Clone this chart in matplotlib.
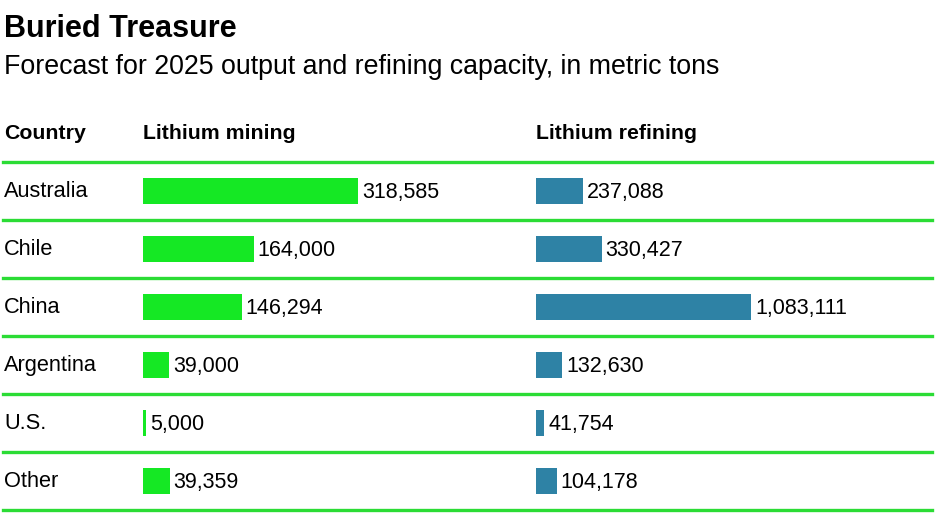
import matplotlib.pyplot as plt
import numpy as np

plt.rcParams['font.family'] = ['Liberation Sans', 'DejaVu Sans']

countries = ['Australia', 'Chile', 'China', 'Argentina', 'U.S.', 'Other']
mining = [318585, 164000, 146294, 39000, 5000, 39359]
refining = [237088, 330427, 1083111, 132630, 41754, 104178]

W, H = 944, 519
GREEN_BAR = '#15e824'
GREEN_LINE = '#2bdc35'
BLUE = '#2e82a5'
BAR_PX = 215  # longest bar in each column, pixels


def px_axes(fig, x0, y0, x1, y1):
    # axes placed in pixel coordinates (top-left origin)
    ax = fig.add_axes([x0 / W, 1 - y1 / H, (x1 - x0) / W, (y1 - y0) / H])
    ax.set_axis_off()
    return ax


def px_text(fig, x, y, s, **kw):
    fig.text(x / W, 1 - y / H, s, va='baseline', ha='left', **kw)


fig = plt.figure(figsize=(W / 100, H / 100), dpi=100)
n = len(countries)
rows = np.arange(n)

px_text(fig, 4, 37, 'Buried Treasure', fontsize=22, fontweight='bold')
px_text(fig, 4, 74, 'Forecast for 2025 output and refining capacity, in metric tons', fontsize=19.3)

px_text(fig, 4, 139, 'Country', fontsize=15.3, fontweight='bold')
px_text(fig, 143, 139, 'Lithium mining', fontsize=15.3, fontweight='bold')
px_text(fig, 536, 139, 'Lithium refining', fontsize=15.3, fontweight='bold')

# separators and country names
top, bottom = 161.5, 509.5
grid = px_axes(fig, 3, top, 932, bottom)
grid.set_xlim(0, 1)
grid.set_ylim(n - 0.5, -0.5)
for yy in np.arange(-0.5, n, 1.0):
    grid.axhline(yy, color=GREEN_LINE, lw=2.4, clip_on=False)
for i, c in enumerate(countries):
    grid.annotate(c, xy=(0, i), xytext=(1, -6.5), textcoords='offset pixels',
                  va='baseline', ha='left', fontsize=15.7)


def bar_column(x0, x1, values, color):
    ax = px_axes(fig, x0, top, x1, bottom)
    ax.set_xlim(0, max(values) * (x1 - x0) / BAR_PX)
    ax.set_ylim(n - 0.5, -0.5)
    bars = ax.barh(rows, values, height=26 / 58, color=color)
    for rect, v in zip(bars, values):
        ax.annotate(f'{v:,}', xy=(rect.get_width(), rect.get_y() + rect.get_height() / 2),
                    xytext=(4, -7.5), textcoords='offset pixels',
                    va='baseline', ha='left', fontsize=15.5)


bar_column(143, 520, mining, GREEN_BAR)
bar_column(536, 930, refining, BLUE)

fig.savefig('out.png', dpi=100)
